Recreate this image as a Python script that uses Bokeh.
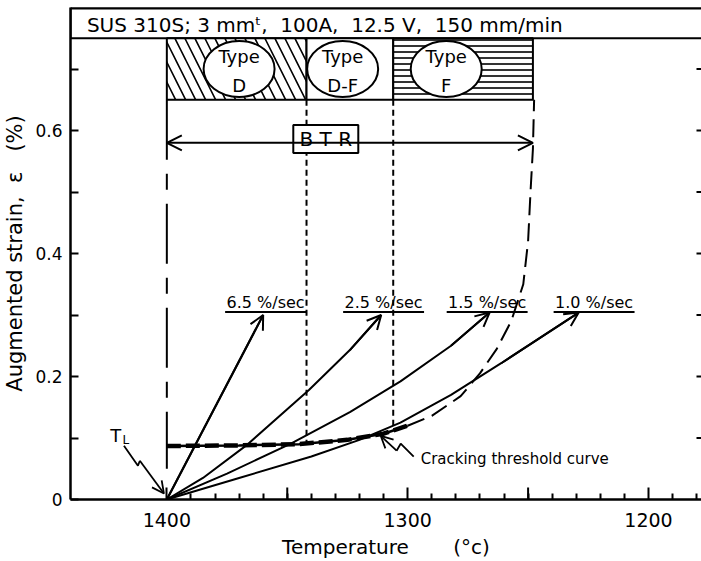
import numpy as np
from bokeh.plotting import figure
from bokeh.models import Range1d, FixedTicker, Arrow, OpenHead
from bokeh.embed import file_html
from bokeh.resources import INLINE
from bokeh.core.properties import value

FONT = "DejaVu Sans"

# ---------------- data ----------------
header_text = "SUS 310S; 3 mm\u1d57,\u00a0\u00a0100A,\u00a0\u00a012.5 V,\u00a0\u00a0150 mm/min"

zone_names = ["D", "D-F", "F"]
zone_left = [1400, 1342, 1306]
zone_right = [1342, 1306, 1248]
zone_center = [1370, 1327, 1284]
zone_bottom = 0.65
zone_top = 0.75

btr_left = 1400
btr_right = 1248
btr_strain = 0.58
btr_label_T = 1334

threshold_T = [1400, 1370, 1345, 1325, 1310, 1300, 1290, 1278, 1270, 1263,
               1257, 1252, 1250, 1249, 1248, 1247.5]
threshold_strain = [0.087, 0.088, 0.090, 0.097, 0.107, 0.120, 0.136, 0.168,
                    0.205, 0.245, 0.290, 0.350, 0.420, 0.500, 0.570, 0.650]

rate_labels = ["6.5 %/sec", "2.5 %/sec", "1.5 %/sec", "1.0 %/sec"]
rate_T = [
    [1400, 1360],
    [1400, 1385, 1367, 1341, 1324, 1311],
    [1400, 1375, 1348.5, 1324, 1303, 1282, 1266],
    [1400, 1370, 1340, 1320, 1303, 1282, 1261, 1229],
]
rate_strain = [
    [0.0, 0.30],
    [0.0, 0.035, 0.088, 0.178, 0.243, 0.300],
    [0.0, 0.042, 0.091, 0.142, 0.192, 0.250, 0.304],
    [0.0, 0.035, 0.070, 0.097, 0.125, 0.170, 0.222, 0.304],
]
rate_label_T = [1359, 1310, 1267, 1222.6]

x_major = [1400, 1300, 1200]
x_mid = [1350, 1250]
x_minor = [t for t in range(1390, 1175, -10) if t not in x_major]
y_major = [0, 0.2, 0.4, 0.6]
y_minor = [0.1, 0.3, 0.5, 0.7]
y_major_labels = ["0", "0.2", "0.4", "0.6"]

X_LEFT, X_RIGHT = 1440, 1178
Y_BOTTOM, Y_TOP = 0.0, 0.8

# ---------------- figure ----------------
p = figure(width=701, height=561, x_range=Range1d(X_LEFT, X_RIGHT), y_range=Range1d(Y_BOTTOM, Y_TOP),
           output_backend="svg", toolbar_location=None,
           min_border_top=7, min_border_right=0, min_border_left=70, min_border_bottom=60)
p.outline_line_color = None
p.xgrid.visible = False
p.ygrid.visible = False
p.background_fill_color = "white"
p.border_fill_color = "white"

# x axis
xa = p.xaxis[0]
xa.ticker = FixedTicker(ticks=x_major, minor_ticks=x_minor)
xa.major_tick_in = 12
xa.major_tick_out = 0
xa.minor_tick_in = 6
xa.minor_tick_out = 0
xa.axis_line_width = 2.5
xa.axis_line_color = "black"
xa.major_tick_line_width = 2
xa.minor_tick_line_width = 2
xa.major_tick_line_color = "black"
xa.minor_tick_line_color = "black"
xa.major_label_text_font = FONT
xa.major_label_text_font_size = "19px"
xa.major_label_text_color = "black"
xa.major_label_standoff = 13
xa.axis_label = "Temperature" + "\u00a0" * 7 + "(\u00b0c)"
xa.axis_label_text_font = FONT
xa.axis_label_text_font_size = "20px"
xa.axis_label_text_font_style = "normal"
xa.axis_label_text_color = "black"
xa.axis_label_standoff = 5

# taller ticks at 1350 and 1250
p.segment(x0=x_mid, x1=x_mid, y0=[0] * len(x_mid), y1=[12 / 617.5] * len(x_mid),
          line_color="black", line_width=2)

# y axis
ya = p.yaxis[0]
ya.ticker = FixedTicker(ticks=y_major, minor_ticks=y_minor)
ya.major_label_overrides = {t: l for t, l in zip(y_major, y_major_labels)}
ya.major_tick_in = 8
ya.major_tick_out = 0
ya.minor_tick_in = 8
ya.minor_tick_out = 0
ya.axis_line_width = 2.5
ya.axis_line_color = "black"
ya.major_tick_line_width = 2
ya.minor_tick_line_width = 2
ya.major_tick_line_color = "black"
ya.minor_tick_line_color = "black"
ya.major_label_text_font = FONT
ya.major_label_text_font_size = "17px"
ya.major_label_text_color = "black"
ya.major_label_standoff = 8
ya.axis_label = "Augmented strain,\u00a0\u00a0\u03b5\u00a0\u00a0\u00a0(%)"
ya.axis_label_text_font = FONT
ya.axis_label_text_font_size = "21px"
ya.axis_label_text_font_style = "normal"
ya.axis_label_text_color = "black"
ya.axis_label_standoff = 5

# right-edge inward ticks
right_ticks = sorted(y_major[1:] + y_minor)
p.segment(x0=[X_RIGHT] * len(right_ticks), x1=[X_RIGHT + 5 / 2.41] * len(right_ticks),
          y0=right_ticks, y1=right_ticks, line_color="black", line_width=2)

# header box
p.quad(left=[X_LEFT], right=[X_RIGHT - 10], bottom=[zone_top], top=[Y_TOP],
       fill_color="white", line_color="black", line_width=2)
p.segment(x0=[X_LEFT], x1=[X_RIGHT], y0=[Y_TOP], y1=[Y_TOP], line_color="black", line_width=4)
p.text(x=[1433.2], y=[0.771], text=[header_text], text_font=value(FONT),
       text_font_size="20px", text_align="left", text_baseline="middle", text_color="black")

# zone boxes
hatches = ["\\", "blank", "-"]
scales = [20, 6, 6]
for l, r, h, s in zip(zone_left, zone_right, hatches, scales):
    p.quad(left=[l], right=[r], bottom=[zone_bottom], top=[zone_top],
           fill_color="white", line_color="black", line_width=2,
           hatch_pattern=h, hatch_scale=s, hatch_weight=1.6, hatch_color="black")
zone_mid = (zone_bottom + zone_top) / 2
p.ellipse(x=zone_center, y=[zone_mid] * 3, width=71, height=56,
          width_units="screen", height_units="screen",
          fill_color="white", line_color="black", line_width=2)
p.text(x=zone_center, y=[zone_mid + 0.021] * 3, text=["Type"] * 3, text_font=value(FONT),
       text_font_size="18px", text_align="center", text_baseline="middle", text_color="black")
p.text(x=zone_center, y=[zone_mid - 0.027] * 3, text=zone_names, text_font=value(FONT),
       text_font_size="18px", text_align="center", text_baseline="middle", text_color="black")

# vertical guide lines
p.line(x=[btr_left, btr_left], y=[zone_bottom, 0.05], line_color="black", line_width=2,
       line_dash="60 14 16 14")
thr_T_asc = threshold_T[::-1]
thr_s_asc = threshold_strain[::-1]
for t in zone_left[1:]:
    y_end = float(np.interp(t, thr_T_asc, thr_s_asc))
    p.line(x=[t, t], y=[zone_bottom, y_end], line_color="black", line_width=2, line_dash="6 4")

# BTR arrow
p.add_layout(Arrow(start=OpenHead(size=15, line_width=2), end=OpenHead(size=15, line_width=2),
                   x_start=btr_left, y_start=btr_strain, x_end=btr_right, y_end=btr_strain,
                   line_width=2))
p.rect(x=[btr_label_T], y=[0.586], width=65, height=28, width_units="screen", height_units="screen",
       fill_color="white", line_color="black", line_width=2)
p.text(x=[btr_label_T], y=[0.586], text=["B T R"], text_font=value(FONT), text_font_size="20px",
       text_align="center", text_baseline="middle", text_color="black")

# cracking threshold curve
thr_T = np.array(threshold_T)
thr_s = np.array(threshold_strain)
thick = thr_T >= 1300
thin = thr_T <= 1300
p.line(x=thr_T[thick], y=thr_s[thick], line_color="black", line_width=2.5)
p.line(x=thr_T[thick], y=thr_s[thick], line_color="black", line_width=4.5, line_dash="14 5")
p.line(x=thr_T[thin], y=thr_s[thin], line_color="black", line_width=2, line_dash="18 8")

# strain-rate curves
for T, s in zip(rate_T, rate_strain):
    p.line(x=T, y=s, line_color="black", line_width=2)
    p.add_layout(Arrow(end=OpenHead(size=14, line_width=2), x_start=T[-2], y_start=s[-2],
                       x_end=T[-1], y_end=s[-1], line_width=2))

# rate labels with underline
p.text(x=rate_label_T, y=[0.321] * 4, text=rate_labels, text_font=value(FONT),
       text_font_size="16px", text_align="center", text_baseline="middle", text_color="black")
p.segment(x0=[t + 16.8 for t in rate_label_T], x1=[t - 16.8 for t in rate_label_T],
          y0=[0.305] * 4, y1=[0.305] * 4, line_color="black", line_width=2)

# T_L pointer
p.line(x=[1417.8, 1412.0, 1411.2], y=[0.0875, 0.055, 0.063], line_color="black", line_width=1.8)
p.add_layout(Arrow(end=OpenHead(size=12, line_width=1.8), x_start=1411.2, y_start=0.063,
                   x_end=1401.2, y_end=0.0097, line_width=1.8))
p.text(x=[1421.2], y=[0.1045], text=["T"], text_font=value(FONT), text_font_size="18px",
       text_align="center", text_baseline="middle", text_color="black")
p.text(x=[1417.0], y=[0.096], text=["L"], text_font=value(FONT), text_font_size="12px",
       text_align="center", text_baseline="middle", text_color="black")

# cracking threshold pointer
p.line(x=[1297.5, 1302.9, 1304.6], y=[0.0696, 0.0907, 0.0794], line_color="black", line_width=1.8)
p.add_layout(Arrow(end=OpenHead(size=12, line_width=1.8), x_start=1304.6, y_start=0.0794,
                   x_end=1311.2, y_end=0.1036, line_width=1.8))
p.text(x=[1294.6], y=[0.0664], text=["Cracking threshold curve"], text_font=value(FONT),
       text_font_size="15px", text_align="left", text_baseline="middle", text_color="black")

open("out.html", "w").write(file_html(p, INLINE))
